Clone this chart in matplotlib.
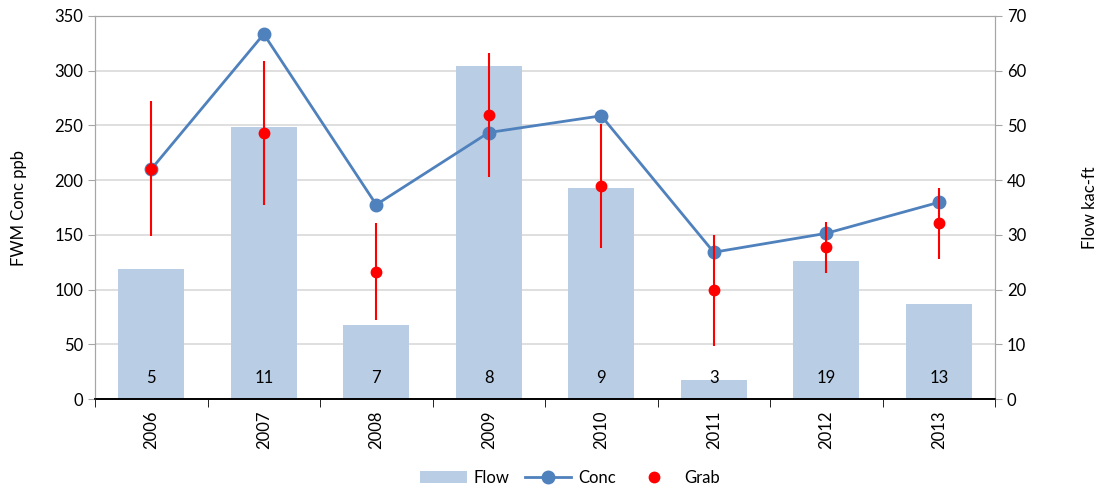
import matplotlib
matplotlib.use("Agg")
import matplotlib.pyplot as plt
from matplotlib.lines import Line2D
from matplotlib.patches import Patch
import numpy as np

plt.rcParams['font.family'] = ['Lato', 'DejaVu Sans']

years = ['2006', '2007', '2008', '2009', '2010', '2011', '2012', '2013']
flow = [23.8, 49.7, 13.6, 60.9, 38.6, 3.5, 25.2, 17.3]
conc = [210, 333.5, 177.6, 243.5, 258.8, 134.1, 151.4, 179.7]
grab = [210, 243.2, 116.5, 259.3, 194.6, 99.4, 138.6, 161.2]
grab_hi = [272, 309.2, 160.5, 315.9, 251.1, 150.2, 161.5, 193.1]
grab_lo = [148.7, 177.2, 72.3, 202.5, 138.0, 48.6, 115.6, 128.3]
counts = [5, 11, 7, 8, 9, 3, 19, 13]

BAR = '#b9cde5'
LINE = '#4f81bd'
GRID = '#d9d9d9'
FRAME = '#a6a6a6'
FS = 12

fig = plt.figure(figsize=(11, 4.95), dpi=100)
ax1 = fig.add_axes([95/1100, 1-399/495, 900/1100, 383/495])
ax2 = ax1.twinx()
ax1.set_zorder(ax2.get_zorder() + 1)
ax1.patch.set_visible(False)

x = np.arange(len(years))

# bars on right axis
ax2.bar(x, flow, width=0.59, color=BAR, zorder=2)
ax2.set_ylim(0, 70)
ax2.set_yticks(np.arange(0, 71, 10))
ax2.yaxis.grid(True, color=GRID, linewidth=1.2, zorder=0)
ax2.set_axisbelow(True)
ax2.set_ylabel('Flow kac-ft', fontsize=FS, labelpad=40)

# conc line & grab
ax1.plot(x, conc, color=LINE, linewidth=2, marker='o', markersize=9, zorder=3)
err = [np.array(grab) - np.array(grab_lo), np.array(grab_hi) - np.array(grab)]
ax1.errorbar(x, grab, yerr=err, fmt='o', color='red', markersize=7.5,
             elinewidth=1.5, capsize=0, zorder=4)
ax1.set_ylim(0, 350)
ax1.set_yticks(np.arange(0, 351, 50))
ax1.set_xlim(-0.5, len(years) - 0.5)
ax1.set_ylabel('FWM Conc ppb', fontsize=FS, labelpad=20)

for xi, c in zip(x, counts):
    ax1.text(xi, 0.055, str(c), transform=ax1.get_xaxis_transform(),
             ha='center', va='center', fontsize=FS, zorder=5)

# x ticks
ax1.set_xticks(x)
ax1.set_xticklabels(years, rotation=90, fontsize=FS)
ax1.tick_params(axis='x', which='major', length=0, pad=8)
ax1.set_xticks(np.arange(-0.5, len(years), 1), minor=True)
ax1.tick_params(axis='x', which='minor', length=6, color='black', direction='out')

ax1.tick_params(axis='y', labelsize=FS, length=5, color=FRAME)
ax2.tick_params(axis='y', labelsize=FS, length=5, color=FRAME)

for ax in (ax1, ax2):
    for s in ('top', 'left', 'right'):
        ax.spines[s].set_color(FRAME)
    ax.spines['bottom'].set_color('black')
    ax.spines['bottom'].set_linewidth(1.2)

handles = [Patch(facecolor=BAR, edgecolor='none'),
           Line2D([0], [0], color=LINE, linewidth=2, marker='o', markersize=9),
           Line2D([0], [0], color='red', linestyle='none', marker='o', markersize=7.5)]
fig.legend(handles, ['Flow', 'Conc', 'Grab'], loc='center', bbox_to_anchor=(570/1100, 1-478/495),
           ncol=3, frameon=False, fontsize=FS, handlelength=2.8, columnspacing=0.9,
           handletextpad=0.4)

fig.savefig('out.png', dpi=100)
